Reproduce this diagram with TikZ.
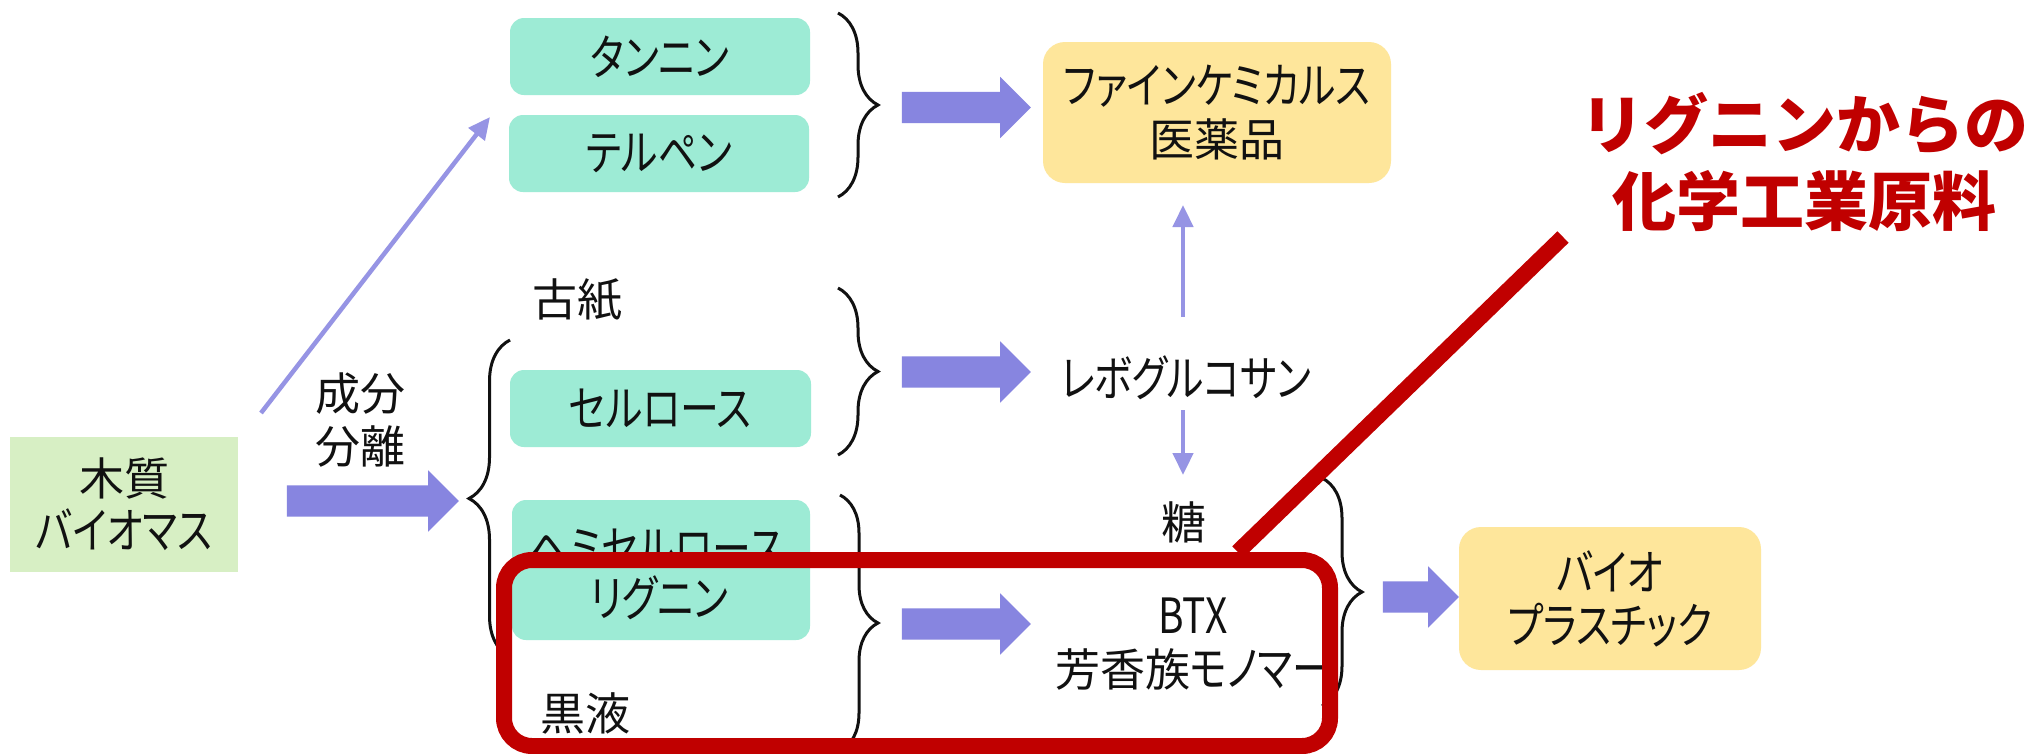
\documentclass[tikz,border=0pt]{standalone}
\usepackage{fontspec}
\newfontfamily\jp{Noto Sans CJK JP}[RawFeature=+palt]
\newfontfamily\jpk{Noto Sans CJK JP}[RawFeature=+palt, Scale=1.08, FakeStretch=0.8]
\newfontfamily\jpw{Noto Sans CJK JP}
\newcommand\kn[1]{{\jpk #1}}
\usetikzlibrary{arrows.meta,decorations.pathreplacing,shapes.arrows,calc}
\definecolor{mint}{HTML}{9DEBD5}
\definecolor{leaf}{HTML}{D7EFC4}
\definecolor{cream}{HTML}{FEE69B}
\definecolor{lav}{HTML}{8785E0}
\definecolor{lavthin}{HTML}{9694E4}
\definecolor{alert}{HTML}{C00000}
\definecolor{ink}{HTML}{111111}
\begin{document}
\begin{tikzpicture}[x=1pt,y=-1pt,
  txt/.style={font=\jp\fontsize{45}{53}\selectfont, text=ink, align=center, inner sep=0pt},
  mintbox/.style={txt, fill=mint, rounded corners=14pt, minimum width=300pt, minimum height=77pt},
  creambox/.style={txt, fill=cream, rounded corners=22pt},
  blockarrow/.style={single arrow, fill=lav, draw=none, inner xsep=0pt, inner ysep=15.5pt,
     single arrow head extend=15pt, single arrow tip angle=90, single arrow head indent=0pt},
  thinarrow/.style={draw=lavthin, line width=4.5pt, -{Triangle[length=22pt,width=20pt]}},
  bracestyle/.style={draw=ink, line width=3pt, decorate},
  redlabel/.style={font=\jpw\bfseries\fontsize{64}{77}\selectfont, text=alert, align=center, inner sep=0pt}
]
\useasboundingbox (0,0) rectangle (2031,753);
\fill[white] (0,0) rectangle (2031,753);

% boxes
\node[txt, fill=leaf, minimum width=228pt, minimum height=135pt] (wood) at (124,504.5) {木質\\\kn{バイオマス}};
\node[txt] (sep) at (360,420) {成分\\分離};
\node[mintbox] (tannin) at (660,56.5) {\kn{タンニン}};
\node[mintbox] (terpene) at (659,153.5) {\kn{テルペン}};
\node[mintbox, minimum width=301pt] (cellulose) at (660.5,408.5) {\kn{セルロース}};
\node[mintbox, minimum width=298pt, minimum height=140pt] (hemibox) at (661,570) {};
\node[txt] (hemi) at (657,548) {\kn{ヘミセルロース}};
\node[txt] (lignin) at (659,598) {\kn{リグニン}};
\node[txt] (paper) at (577,300) {古紙};
\node[txt] (liquor) at (585,713) {黒液};
\node[creambox, minimum width=348pt, minimum height=141pt] (fine) at (1217,112.5) {\kn{ファインケミカルス}\\医薬品};
\node[txt] (levo) at (1186,378) {\kn{レボグルコサン}};
\node[txt] (sugar) at (1184,522) {糖};
\node[txt] (btx) at (1193,644) {\kn{BTX}\\芳香族\kn{モノマー}};
\node[creambox, minimum width=302pt, minimum height=143pt] (bio) at (1610,598.5) {\kn{バイオ}\\\kn{プラスチック}};
\node[redlabel] (note) at (1804,161.5) {リグニンからの\\化学工業原料};

% block arrows
\node[blockarrow, minimum height=172pt] (aw) at (365,501) {};
\node[blockarrow, minimum height=129pt] (a1) at (958.5,107.5) {};
\node[blockarrow, minimum height=129pt] (a2) at (958.5,372) {};
\node[blockarrow, minimum height=129pt] (a3) at (958.5,624) {};
\node[blockarrow, minimum height=76pt] (a4) at (1413,597) {};

% thin arrows
\coordinate (diagS) at (261,413);
\coordinate (diagE) at (490,117);
\draw[thinarrow] (diagS) -- (diagE);
\coordinate (levoUp) at (1183,317);
\coordinate (fineDown) at (1183,205);
\draw[thinarrow] (levoUp) -- (fineDown);
\coordinate (levoDown) at (1183,410);
\coordinate (sugarUp) at (1183,475);
\draw[thinarrow] (levoDown) -- (sugarUp);

% braces
\draw[bracestyle, decoration={brace, amplitude=41pt}] (510,657) -- (510,340);
\draw[bracestyle, decoration={brace, amplitude=40pt}] (838,13) -- (838,197);
\draw[bracestyle, decoration={brace, amplitude=40pt}] (838,288) -- (838,455);
\draw[bracestyle, decoration={brace, amplitude=38pt}] (840,495) -- (840,751);
\draw[bracestyle, decoration={brace, amplitude=40pt}] (1322,478) -- (1322,706);

% red highlight
\node[draw=alert, line width=16pt, rounded corners=28pt, minimum width=826pt, minimum height=186pt, inner sep=0pt] (focus) at (917,653) {};
\coordinate (callout) at (1563,237);
\draw[alert, line width=16pt] ($(focus.north west)!0.881!(focus.north east)$) -- (callout);
\end{tikzpicture}
\end{document}
